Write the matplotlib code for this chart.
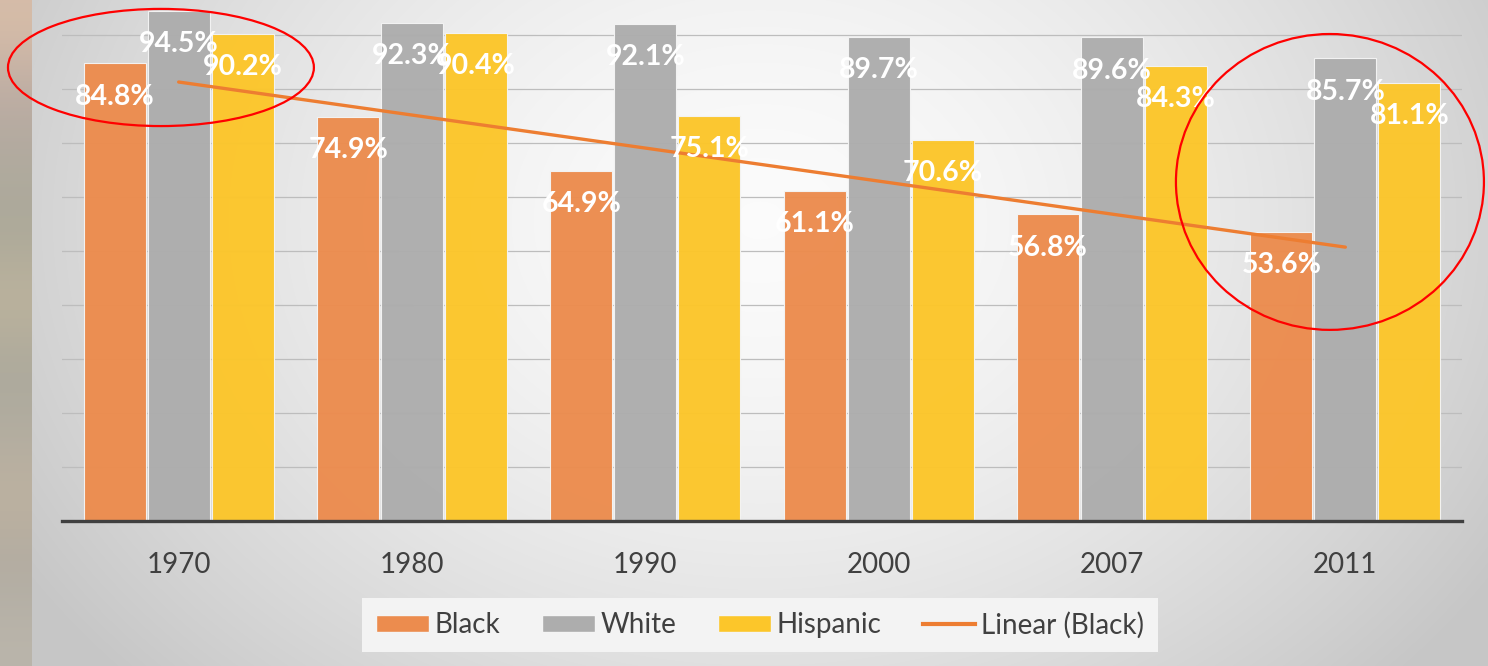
import numpy as np
import matplotlib.pyplot as plt
from matplotlib.patches import Patch, Ellipse
from matplotlib.lines import Line2D

plt.rcParams['font.family'] = ['Lato', 'DejaVu Sans']

# Data
years = ['1970', '1980', '1990', '2000', '2007', '2011']
black = [84.8, 74.9, 64.9, 61.1, 56.8, 53.6]
white = [94.5, 92.3, 92.1, 89.7, 89.6, 85.7]
hispanic = [90.2, 90.4, 75.1, 70.6, 84.3, 81.1]

series = [('Black', black, '#EC8C4E'),
          ('White', white, '#ADADAD'),
          ('Hispanic', hispanic, '#FCC62A')]

fig = plt.figure(figsize=(14.88, 6.66), dpi=100)

# background gradient (decoration)
bg = fig.add_axes([0, 0, 1, 1], zorder=-10)
yy, xx = np.mgrid[0:666, 0:1488]
r = np.sqrt(((xx - 760) / 900.0) ** 2 + ((yy - 220) / 700.0) ** 2)
shade = np.clip(0.985 - 0.22 * r ** 1.6, 0.78, 1)
bg.imshow(np.dstack([shade] * 3), aspect='auto', extent=[0, 1488, 666, 0])
# photo strip on the far left
strip_cols = np.array([[0.84, 0.74, 0.66], [0.73, 0.67, 0.64], [0.69, 0.67, 0.62],
                       [0.67, 0.66, 0.60], [0.75, 0.71, 0.62], [0.67, 0.66, 0.61],
                       [0.70, 0.68, 0.63], [0.75, 0.70, 0.63], [0.69, 0.67, 0.63],
                       [0.73, 0.71, 0.67]])
bg.imshow(strip_cols[:, None, :], aspect='auto', extent=[0, 32, 666, 0],
          interpolation='bicubic')
bg.set_xlim(0, 1488)
bg.set_ylim(666, 0)
bg.axis('off')

ax = fig.add_axes([62 / 1488, 1 - 521 / 666, 1400 / 1488, 521 / 666])
ax.set_facecolor('none')

x = np.arange(len(years))
w = 0.266
step = 0.274
for i, (name, vals, col) in enumerate(series):
    pos = x + (i - 1) * step
    ax.bar(pos, vals, width=w, color=col, edgecolor='#f4f4f4',
           linewidth=0.8, alpha=0.97, zorder=2)
    for xb, v in zip(pos, vals):
        ax.annotate(f'{v}%', (xb, v), xytext=(0, -24), textcoords='offset points',
                    ha='center', va='center', color='white', fontsize=20.5,
                    fontweight='bold', zorder=5)

# linear trend of Black
coef = np.polyfit(x, black, 1)
ax.plot(x, np.polyval(coef, x), color='#ED7D31', lw=2.4, zorder=4,
        solid_capstyle='round')

ax.set_xlim(-0.5, 5.5)
ax.set_ylim(0, 96.5)
ax.set_yticks(np.arange(10, 100, 10))
ax.yaxis.grid(True, color='#bdbdbd', lw=0.9, zorder=0)
ax.set_axisbelow(True)
ax.tick_params(axis='y', left=False, labelleft=False)
ax.set_xticks(x)
ax.set_xticklabels(years, fontsize=20, color='#404040')
ax.tick_params(axis='x', length=0, pad=22)
for s in ['top', 'right', 'left']:
    ax.spines[s].set_visible(False)
ax.spines['bottom'].set_color('#404040')
ax.spines['bottom'].set_linewidth(2.4)

# red highlight ellipses
ax.add_patch(Ellipse((-0.076, 84.0), 1.311, 21.7, fill=False, edgecolor='#FF0000',
                     lw=1.6, clip_on=False, zorder=6))
ax.add_patch(Ellipse((4.934, 62.8), 1.32, 54.8, fill=False, edgecolor='#FF0000',
                     lw=1.6, clip_on=False, zorder=6))

handles = [Patch(facecolor=c, edgecolor='#f4f4f4', label=n) for n, _, c in series]
handles.append(Line2D([], [], color='#ED7D31', lw=3, label='Linear (Black)'))
leg = fig.legend(handles=handles, loc='center', bbox_to_anchor=(0.5108, 0.0616),
                 ncol=4, fontsize=20, frameon=True, fancybox=False,
                 facecolor='#f3f3f3', edgecolor='none', framealpha=1,
                 handlelength=1.9, handleheight=0.6, handletextpad=0.2,
                 columnspacing=1.5, borderpad=0.5)
for t in leg.get_texts():
    t.set_color('#404040')

fig.savefig('out.png', dpi=100)
